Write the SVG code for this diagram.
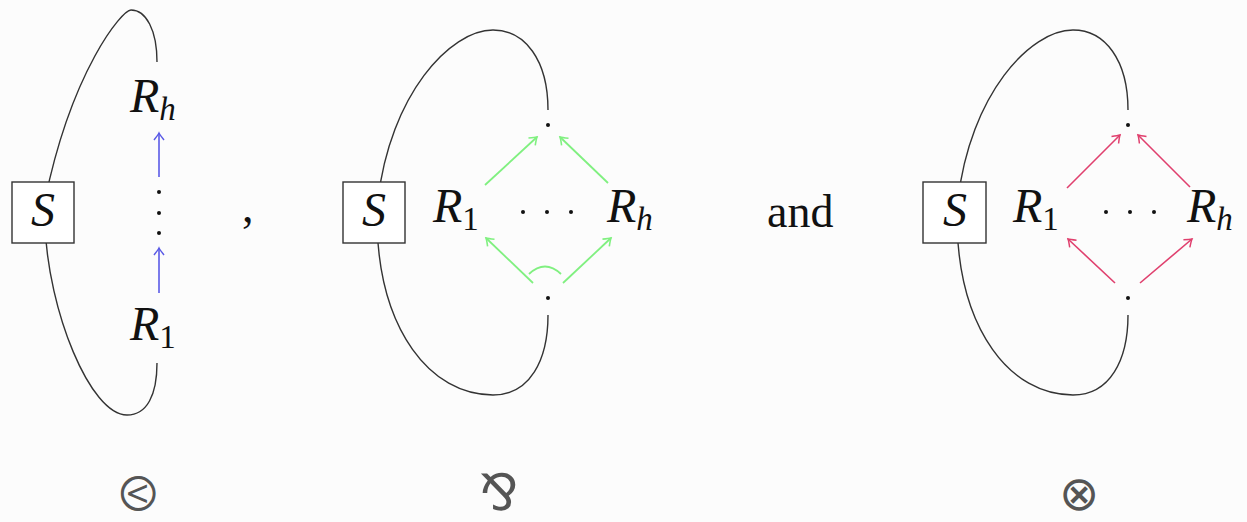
<svg xmlns="http://www.w3.org/2000/svg" width="1247" height="522" viewBox="0 0 1247 522">
<defs>
<style>
.arc{fill:none;stroke:#333;stroke-width:1.4}
.box{fill:#fff;stroke:#333;stroke-width:1.4}
.m{font-family:"Liberation Serif",serif;font-style:italic;font-size:48px;fill:#111}
.sub{font-size:33px;font-style:normal}
.subi{font-size:33px;font-style:italic}
.rm{font-family:"Liberation Serif",serif;font-size:46px;fill:#111}
.dot{fill:#111}
.b{stroke:#5a5ae6;stroke-width:1.6;fill:none}
.g{stroke:#80f080;stroke-width:1.8;fill:none}
.p{stroke:#e0406e;stroke-width:1.6;fill:none}
.sym{font-family:"DejaVu Sans",sans-serif;fill:#555}
</style>
<marker id="hb" viewBox="-8 -6 10 12" markerWidth="10" markerHeight="12" refX="0" refY="0" orient="auto" markerUnits="userSpaceOnUse"><path d="M-7,-5 Q-2,-1 0,0 Q-2,1 -7,5" fill="none" stroke="#5a5ae6" stroke-width="1.5"/></marker>
<marker id="hg" viewBox="-8 -6 10 12" markerWidth="10" markerHeight="12" refX="0" refY="0" orient="auto" markerUnits="userSpaceOnUse"><path d="M-7,-5 Q-2,-1 0,0 Q-2,1 -7,5" fill="none" stroke="#80f080" stroke-width="1.6"/></marker>
<marker id="hp" viewBox="-8 -6 10 12" markerWidth="10" markerHeight="12" refX="0" refY="0" orient="auto" markerUnits="userSpaceOnUse"><path d="M-7,-5 Q-2,-1 0,0 Q-2,1 -7,5" fill="none" stroke="#e0406e" stroke-width="1.5"/></marker>
</defs>
<rect width="1247" height="522" fill="#fcfcfc"/>

<g id="connectors">
<!-- diagram 1 -->
<path class="arc" d="M157,62 C157,30 146,10 131,10 C122,10 72,70 45,200"/>
<path class="arc" d="M45,225 C48,310 90,415 127,415 C147,415 157,395 157,363"/>
<line class="b" x1="159" y1="293" x2="159" y2="248" marker-end="url(#hb)"/>
<line class="b" x1="159" y1="177" x2="159" y2="133" marker-end="url(#hb)"/>
<!-- diagram 2 -->
<path class="arc" d="M548,110 C548,60 525,30 493,30 C450,30 390,95 378,200"/>
<path class="arc" d="M377,225 C380,330 430,395 493,395 C530,395 548,360 548,315"/>
<line class="g" x1="485" y1="185" x2="537" y2="137" marker-end="url(#hg)"/>
<line class="g" x1="608" y1="183" x2="560" y2="137" marker-end="url(#hg)"/>
<line class="g" x1="533" y1="283" x2="486" y2="238" marker-end="url(#hg)"/>
<line class="g" x1="563" y1="283" x2="611" y2="238" marker-end="url(#hg)"/>
<path class="g" d="M529,274 Q545,259 561,274"/>
<!-- diagram 3 -->
<path class="arc" d="M1128,110 C1128,60 1105,30 1073,30 C1030,30 970,95 958,200"/>
<path class="arc" d="M957,225 C960,330 1010,395 1073,395 C1110,395 1128,360 1128,315"/>
<line class="p" x1="1067" y1="188" x2="1120" y2="135" marker-end="url(#hp)"/>
<line class="p" x1="1190" y1="187" x2="1138" y2="135" marker-end="url(#hp)"/>
<line class="p" x1="1115" y1="283" x2="1068" y2="239" marker-end="url(#hp)"/>
<line class="p" x1="1140" y1="283" x2="1192" y2="239" marker-end="url(#hp)"/>
</g>

<g id="d1-S"><rect class="box" x="12" y="182" width="62" height="61"/><text class="m" x="43" y="226" text-anchor="middle">S</text></g>
<g id="d1-Rh"><text class="m" x="130" y="112">R<tspan class="subi" dy="8">h</tspan></text></g>
<g id="d1-dots"><circle class="dot" cx="159" cy="192" r="2"/><circle class="dot" cx="159" cy="213" r="2"/><circle class="dot" cx="159" cy="233" r="2"/></g>
<g id="d1-R1"><text class="m" x="130" y="340">R<tspan class="sub" dy="8">1</tspan></text></g>
<g id="comma"><text class="rm" x="242" y="222">,</text></g>

<g id="d2-S"><rect class="box" x="343" y="182" width="62" height="61"/><text class="m" x="374" y="226" text-anchor="middle">S</text></g>
<g id="d2-R1"><text class="m" x="433" y="222">R<tspan class="sub" dy="8">1</tspan></text></g>
<g id="d2-dots"><circle class="dot" cx="523" cy="212" r="2"/><circle class="dot" cx="547" cy="212" r="2"/><circle class="dot" cx="571" cy="212" r="2"/></g>
<g id="d2-Rh"><text class="m" x="607" y="222">R<tspan class="subi" dy="8">h</tspan></text></g>
<g id="d2-top"><circle class="dot" cx="548" cy="125" r="2"/></g>
<g id="d2-bot"><circle class="dot" cx="548" cy="298" r="2"/></g>

<g id="and"><text class="rm" x="767" y="227">and</text></g>

<g id="d3-S"><rect class="box" x="923" y="182" width="63" height="61"/><text class="m" x="955" y="226" text-anchor="middle">S</text></g>
<g id="d3-R1"><text class="m" x="1013" y="222">R<tspan class="sub" dy="8">1</tspan></text></g>
<g id="d3-dots"><circle class="dot" cx="1106" cy="212" r="2"/><circle class="dot" cx="1130" cy="212" r="2"/><circle class="dot" cx="1154" cy="212" r="2"/></g>
<g id="d3-Rh"><text class="m" x="1187" y="222">R<tspan class="subi" dy="8">h</tspan></text></g>
<g id="d3-top"><circle class="dot" cx="1128" cy="125" r="2"/></g>
<g id="d3-bot"><circle class="dot" cx="1128" cy="298" r="2"/></g>

<g id="op1"><text class="sym" x="138" y="510" font-size="48" text-anchor="middle">⧀</text></g>
<g id="op2"><text class="sym" x="499" y="510" font-size="50" text-anchor="middle" font-family="DejaVu Serif, serif">⅋</text></g>
<g id="op3"><text class="sym" x="1079" y="510" font-size="48" text-anchor="middle">⊗</text></g>
</svg>
